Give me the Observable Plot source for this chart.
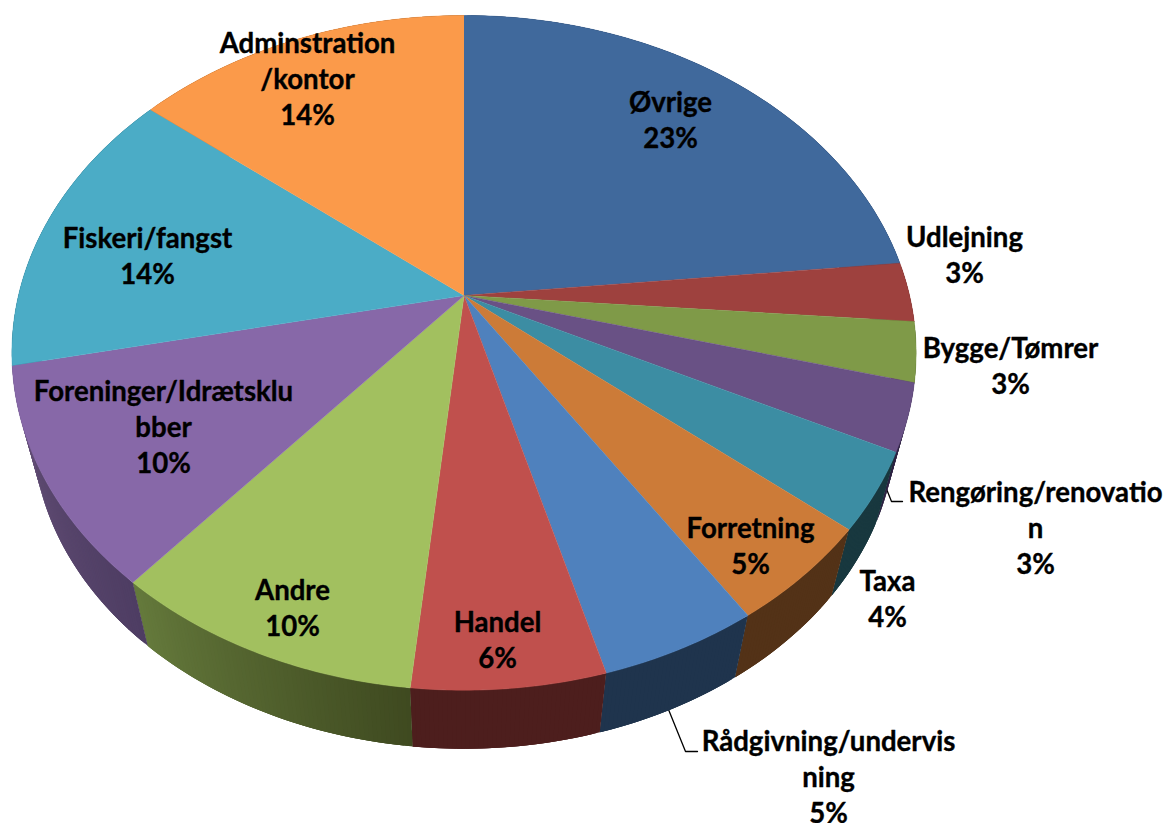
<!DOCTYPE html>
<html><head><meta charset="utf-8">
<script src="https://cdn.jsdelivr.net/npm/d3@7"></script>
<script src="https://cdn.jsdelivr.net/npm/@observablehq/plot@0.6"></script>
<style>html,body{margin:0;padding:0;background:#fff}svg{display:block}</style>
</head><body><div id="chart"></div>
<script>
// Data
const names = ["Øvrige","Udlejning","Bygge/Tømrer","Rengøring/renovatio\nn","Taxa","Forretning","Rådgivning/undervis\nning","Handel","Andre","Foreninger/Idrætsklu\nbber","Fiskeri/fangst","Adminstration\n/kontor"];
const percentLabels = [23,3,3,3,4,5,5,6,10,10,14,14];
const shares = [23.4,2.85,2.85,3.2,3.7,4.8,4.9,5.9,9.6,10.5,14.1,14.2];
// Styles
const topColors = ["#40699c","#9e413e","#7f9a48","#695185","#3c8da3","#cc7b38","#4f81bd","#c0504d","#a2c05f","#8768a8","#4bacc6","#fb9a4a"];
const wallFrom = ["#263f5e","#5f2725","#4c5c2b","#3f3150","#18383f","#533217","#1f344d","#4d1e1d","#3f4a20","#4e3d63","#2d6777","#945a2a"];
const wallTo   = ["#263f5e","#5f2725","#4c5c2b","#2a2040","#18383f","#533217","#1f344d","#4d1e1d","#657a3c","#655078","#2d6777","#945a2a"];
// Layout: label centres and leader paths in chart units
const labelX = [670,964,1010,1035,887,750,828,497,292,163,147,307];
const labelY = [118,253,364,526,597,544,775,638,606,425,254,77];
const leaders = [
  [[668,709],[685,751],[697,751]],
  [[885,486],[891,501],[902,501]]
];
// Perspective disc
const cx = 463.5, cy = 295, a = 445.5, b = 327.6, k = 0.17, vx = 464, vy = 1990, depth = 0.045;
const project = (frac, r = 1) => {
  const t = frac * 2 * Math.PI, u = r * Math.sin(t), v = r * Math.cos(t), w = 1 + k * v;
  return [cx + a * u / w, cy - b * v / w];
};
const lower = ([x, y]) => [x + depth * (vx - x), y + depth * (vy - y)];
const total = d3.sum(shares);
const edges = d3.cumsum(shares).map(d => d / total);
const starts = [0, ...edges.slice(0, -1)];
const step = 1 / 720;

const tops = [], walls = [];
shares.forEach((_, i) => {
  const n = Math.max(2, Math.ceil((edges[i] - starts[i]) / step));
  const fr = d3.range(n + 1).map(j => starts[i] + (edges[i] - starts[i]) * j / n);
  [[cx, cy], ...fr.map(f => project(f))].forEach(([x, y]) => tops.push({id: i, x, y, color: topColors[i]}));
  const mix = d3.interpolateRgb(wallFrom[i], wallTo[i]);
  // each strip runs on under the next one, so no hairline gaps show between them
  fr.slice(0, -1).forEach((f, j) => {
    const f2 = fr[Math.min(j + 3, n)], color = d3.rgb(mix(j / n)).formatHex();
    const p = project(f), q = project(f2);
    [p, q, lower(q), lower(p)].forEach(([x, y]) => walls.push({id: `${i}-${j}`, x, y, color}));
  });
});
const leaderRows = leaders.flatMap((l, i) => l.map(([x, y]) => ({id: i, x, y})));
const labels = names.map((n, i) => ({text: `${n}\n${percentLabels[i]}%`, x: labelX[i], y: labelY[i]}));

const chart = Plot.plot({
  width: 1165, height: 823, margin: 0,
  x: {domain: [0, 1165], range: [0, 1165], axis: null},
  y: {domain: [0, 823], range: [0, 823], axis: null},
  style: {background: "#fff"},
  marks: [
    Plot.line(leaderRows, {x: "x", y: "y", z: "id", stroke: "#000", strokeWidth: 1.3}),
    Plot.line(walls, {x: "x", y: "y", z: "id", fill: "color"}),
    Plot.line(tops, {x: "x", y: "y", z: "id", fill: "color", stroke: "color", strokeWidth: 0.5}),
    Plot.text(labels, {x: "x", y: "y", text: "text", fontFamily: "Lato", fontWeight: 700, fontSize: 27.6, lineHeight: 1.305, fill: "#000", stroke: "#000", strokeWidth: 0.35, textAnchor: "middle"})
  ]
});
document.getElementById("chart").append(chart);
</script></body></html>
